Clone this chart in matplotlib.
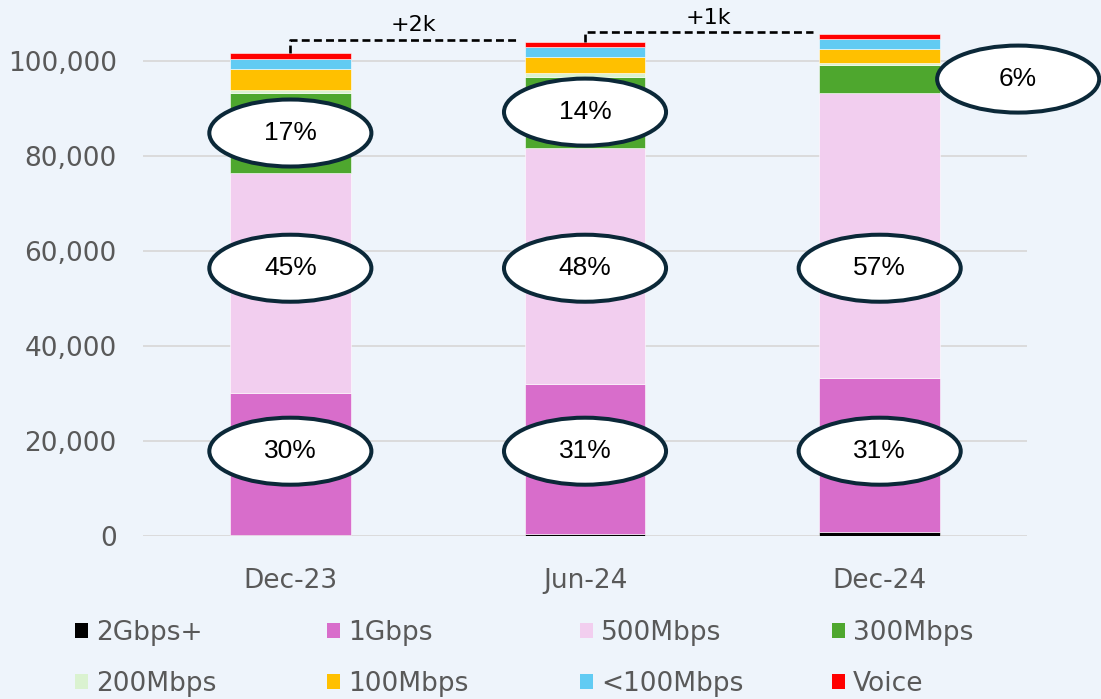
import matplotlib
matplotlib.use('Agg')
import matplotlib.pyplot as plt
import numpy as np
from matplotlib.patches import Ellipse, Patch
from matplotlib.ticker import FuncFormatter

# data (subscriber counts)
periods = ['Dec-23', 'Jun-24', 'Dec-24']
tiers = ['2Gbps+', '1Gbps', '500Mbps', '300Mbps', '200Mbps', '100Mbps', '<100Mbps', 'Voice']
gbps2 = [200, 400, 800]
gbps1 = [30000, 31600, 32500]
mbps500 = [46200, 49800, 59900]
mbps300 = [16900, 14900, 6000]
mbps200 = [700, 700, 400]
mbps100 = [4300, 3500, 2900]
mbps_lt100 = [2200, 2100, 2100]
voice = [1100, 1100, 1100]

# callout labels
share_1g = ['30%', '31%', '31%']
share_500 = ['45%', '48%', '57%']
share_300 = ['17%', '14%', '6%']
growth = ['+2k', '+1k']

colors = ['#000000', '#D86DCB', '#F2CEEF', '#4EA72E', '#DAF2D0', '#FFC000', '#61CBF3', '#FF0000']
bg = '#EEF4FB'

series = [gbps2, gbps1, mbps500, mbps300, mbps200, mbps100, mbps_lt100, voice]

fig = plt.figure(figsize=(11.01, 6.99), dpi=100, facecolor=bg)
ax = fig.add_axes([0.1299, 0.2328, 0.8029, 0.7479])
ax.set_facecolor(bg)

x = np.arange(len(periods))
w = 0.41
bottom = np.zeros(len(periods))
for vals, col in zip(series, colors):
    ax.bar(x, vals, w, bottom=bottom, color=col, edgecolor='white', linewidth=0.4, zorder=3)
    bottom += np.array(vals)
totals = bottom.copy()

ax.set_xlim(-0.5, 2.5)
ax.set_ylim(0, 110000)
ax.set_yticks(range(0, 100001, 20000))
ax.yaxis.set_major_formatter(FuncFormatter(lambda v, p: f'{int(v):,}'))
ax.set_xticks(x)
ax.set_xticklabels(periods)
ax.grid(axis='y', color='#D9D9D9', linewidth=1.3, zorder=0)
for s in ax.spines.values():
    s.set_visible(False)
ax.tick_params(axis='y', length=0, pad=19, labelsize=19, labelcolor='#595959')
ax.tick_params(axis='x', length=0, pad=23, labelsize=19, labelcolor='#595959')

# percentage callouts
ew, eh = 0.55, 14100
lab_font = dict(family='Liberation Sans', fontsize=19, color='black', ha='center', va='center', zorder=6)
mid300 = np.array(gbps2) + np.array(gbps1) + np.array(mbps500) + np.array(mbps300) / 2
for i in range(len(periods)):
    cx_top = x[i] + (0.47 if i == 2 else 0)
    for cx, cy, txt in [(x[i], 17900, share_1g[i]), (x[i], 56400, share_500[i]), (cx_top, mid300[i], share_300[i])]:
        e = Ellipse((cx, cy), ew, eh, facecolor='white', edgecolor='#0B2838', linewidth=2.9, zorder=5, clip_on=False)
        ax.add_patch(e)
        ax.text(cx, cy, txt, **lab_font)

# growth connectors
for i in range(len(periods) - 1):
    level = totals[i + 1] + 400
    x_end = x[i + 1] - w / 2 - 0.02
    ax.plot([x[i], x[i], x_end], [totals[i], level, level], color='black', linewidth=1.9,
            linestyle=(0, (3, 1.6)), zorder=4, clip_on=False)
    ax.annotate(growth[i], ((x[i] + x_end) / 2 + 0.03, level), xytext=(0, 3), textcoords='offset points',
                ha='center', va='bottom', fontsize=16, color='black', annotation_clip=False)

# legend: four equal-width columns, two rows
handles = [Patch(facecolor=c, edgecolor='none') for c in colors]
col_x = [0.0681, 0.297, 0.5268, 0.7557]
for j, cxp in enumerate(col_x):
    idx = [j, j + 4]
    leg = fig.legend([handles[k] for k in idx], [tiers[k] for k in idx], ncol=1, frameon=False,
                     loc='upper left', bbox_to_anchor=(cxp, 0.113), borderaxespad=0, borderpad=0,
                     fontsize=19, handlelength=0.5, handleheight=0.5, handletextpad=0.3,
                     labelspacing=0.93)
    for t in leg.get_texts():
        t.set_color('#595959')

fig.savefig('out.png', dpi=100, facecolor=bg)
